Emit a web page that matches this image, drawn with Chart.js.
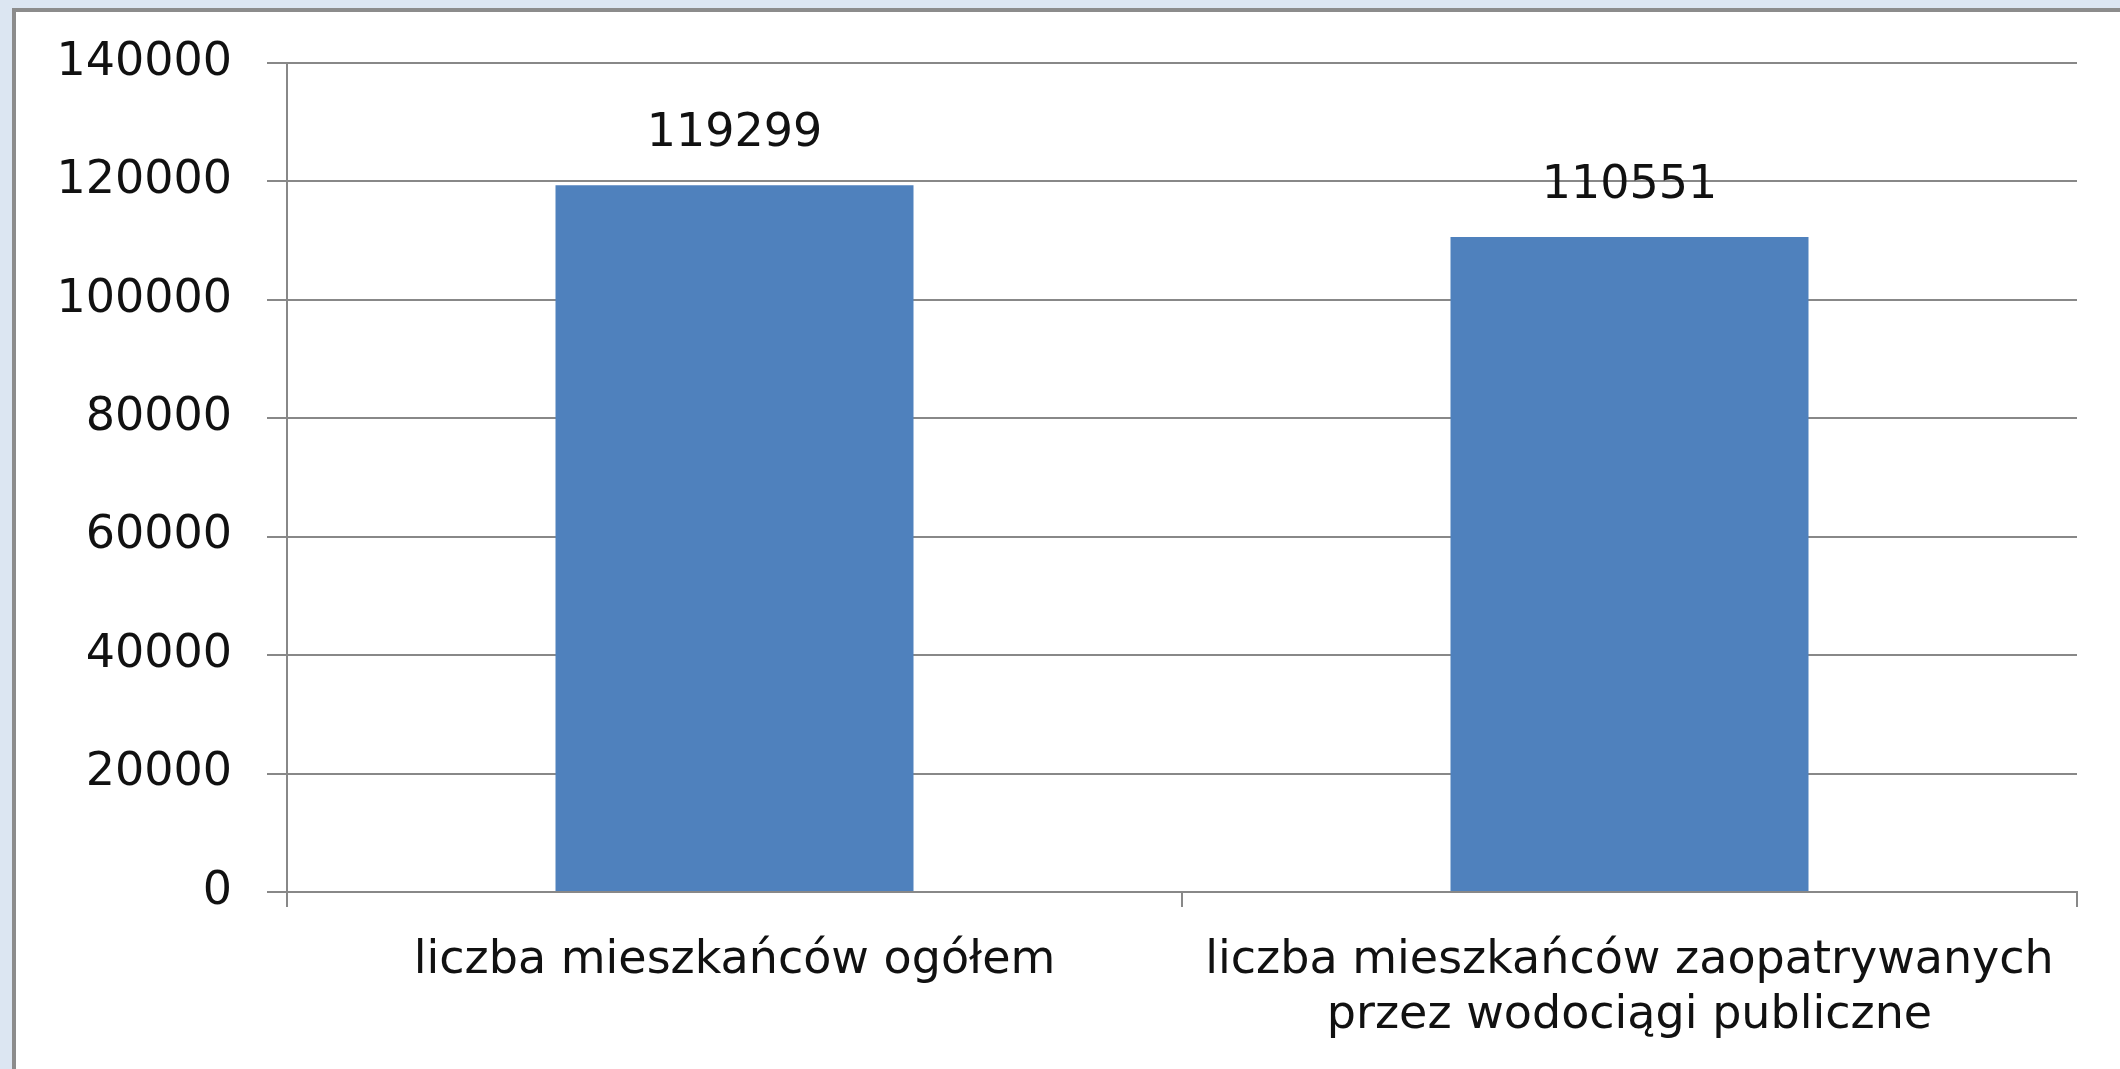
<!DOCTYPE html>
<html>
<head>
<meta charset="utf-8">
<script src="https://cdn.jsdelivr.net/npm/chart.js@4/dist/chart.umd.min.js"></script>
<style>
  html, body { margin: 0; padding: 0; width: 2120px; height: 1069px; overflow: hidden; background: #dce6f2; }
  #frame {
    position: absolute; left: 12px; top: 8px; width: 2200px; height: 1200px;
    background: #fff; border-left: 4px solid #8c8c8c; border-top: 4px solid #8c8c8c;
  }
  #chart { position: absolute; left: 0; top: 0; }
</style>
</head>
<body>
<div id="frame"></div>
<canvas id="chart" width="2120" height="1069"></canvas>
<script>
// values
const categories = [
    'liczba mieszkańców ogółem',
    ['liczba mieszkańców zaopatrywanych', 'przez wodociągi publiczne']
];
const residents = [119299, 110551];
const yTicks = [0, 20000, 40000, 60000, 80000, 100000, 120000, 140000];

const FONT = 'DejaVu Sans';
const GRID = '#888888';

// value labels above each bar
const barLabels = {
    id: 'barLabels',
    afterDatasetsDraw(chart) {
        const ctx = chart.ctx;
        ctx.save();
        ctx.font = `46px "${FONT}"`;
        ctx.fillStyle = '#111';
        ctx.textAlign = 'center';
        ctx.textBaseline = 'middle';
        chart.getDatasetMeta(0).data.forEach((bar, i) => {
            ctx.fillText(String(residents[i]), bar.x, bar.y - 51);
        });
        ctx.restore();
    }
};

new Chart(document.getElementById('chart').getContext('2d'), {
    type: 'bar',
    data: {
        labels: categories,
        datasets: [{
            data: residents,
            backgroundColor: '#4f81bd',
            borderWidth: 0,
            categoryPercentage: 0.4,
            barPercentage: 1.0
        }]
    },
    options: {
        responsive: false,
        animation: false,
        devicePixelRatio: 1,
        layout: { padding: { top: 47, right: 43, bottom: 0, left: 0 } },
        plugins: { legend: { display: false }, tooltip: { enabled: false } },
        scales: {
            y: {
                min: 0,
                max: 140000,
                afterFit: s => { s.width = 287; },
                afterBuildTicks: s => { s.ticks = yTicks.map(v => ({ value: v })); },
                border: { display: true, color: GRID, width: 2 },
                grid: { color: GRID, lineWidth: 2, tickLength: 20 },
                ticks: {
                    padding: 35,
                    color: '#111',
                    font: { family: FONT, size: 46 },
                    callback: v => String(v)
                }
            },
            x: {
                afterFit: s => { s.height = 177; },
                border: { display: true, color: GRID, width: 2 },
                grid: { offset: true, drawOnChartArea: false, color: GRID, lineWidth: 2, tickLength: 15 },
                ticks: {
                    padding: 26,
                    color: '#111',
                    maxRotation: 0,
                    font: { family: FONT, size: 46, lineHeight: 1.2 }
                }
            }
        }
    },
    plugins: [barLabels]
});
</script>
</body>
</html>
